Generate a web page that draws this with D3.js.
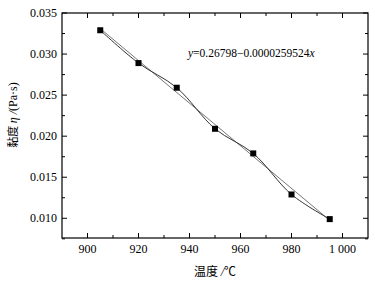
<!DOCTYPE html>
<html>
<head>
<meta charset="utf-8">
<script src="https://cdn.jsdelivr.net/npm/d3@7"></script>
<style>
  body { margin: 0; background: #fff; }
  svg { display: block; }
</style>
</head>
<body>
<div id="container"></div>
<script>
let w = 375;
let h = 287;
let margin = {top: 13, right: 7, bottom: 49, left: 62};

// DATA
let temps = [905, 920, 935, 950, 965, 980, 995];
let viscosity = [0.0329, 0.0289, 0.0259, 0.0209, 0.0179, 0.0129, 0.0099];
// fitted straight line, its two ends
let fitTemps = [905, 995];
let fitValues = [0.0331, 0.00975];
let xTicks = [900, 920, 940, 960, 980, 1000];
let xTickLabels = ["900", "920", "940", "960", "980", "1 000"];
let yTicks = [0.010, 0.015, 0.020, 0.025, 0.030, 0.035];
let equation = "0.26798\u22120.0000259524";

let viz = d3.select("#container").append("svg")
    .attr("width", w)
    .attr("height", h)
    .style("background-color", "white")
;

let xScale = d3.scaleLinear().domain([890, 1010]).range([margin.left, w - margin.right]);
let yScale = d3.scaleLinear().domain([0.0076, 0.035]).range([h - margin.bottom, margin.top]);

let x0 = margin.left, x1 = w - margin.right, y0 = h - margin.bottom, y1 = margin.top;

// frame
viz.append("rect")
    .attr("x", x0).attr("y", y1)
    .attr("width", x1 - x0).attr("height", y0 - y1)
    .attr("fill", "none").attr("stroke", "black").attr("stroke-width", 1.2)
;

// minor + major ticks, all pointing in
let xMinor = d3.range(900, 1010, 10);
let yMinor = d3.range(0.0075, 0.035, 0.0025);

let tickG = viz.append("g").attr("stroke", "black").attr("stroke-width", 1);
xMinor.forEach(function(t){
  let major = xTicks.indexOf(t) >= 0;
  let len = major ? 5 : 3;
  tickG.append("line").attr("x1", xScale(t)).attr("x2", xScale(t)).attr("y1", y0).attr("y2", y0 - len);
  tickG.append("line").attr("x1", xScale(t)).attr("x2", xScale(t)).attr("y1", y1).attr("y2", y1 + len);
});
yMinor.forEach(function(t){
  let major = yTicks.some(function(v){ return Math.abs(v - t) < 1e-6; });
  let len = major ? 5 : 3;
  tickG.append("line").attr("y1", yScale(t)).attr("y2", yScale(t)).attr("x1", x0).attr("x2", x0 + len);
  tickG.append("line").attr("y1", yScale(t)).attr("y2", yScale(t)).attr("x1", x1).attr("x2", x1 - len);
});

// tick labels
viz.selectAll(".xlab").data(xTicks).enter()
  .append("text")
    .attr("class", "xlab")
    .attr("x", function(d){ return xScale(d); })
    .attr("y", y0 + 15)
    .attr("text-anchor", "middle")
    .attr("font-family", "Liberation Serif")
    .attr("font-size", 12)
    .text(function(d,i){ return xTickLabels[i]; })
;
viz.selectAll(".ylab").data(yTicks).enter()
  .append("text")
    .attr("class", "ylab")
    .attr("x", x0 - 5)
    .attr("y", function(d){ return yScale(d) + 4; })
    .attr("text-anchor", "end")
    .attr("font-family", "Liberation Serif")
    .attr("font-size", 12)
    .text(function(d){ return d3.format(".3f")(d); })
;

// axis titles
let xt = viz.append("text")
    .attr("x", (x0 + x1) / 2)
    .attr("y", 276)
    .attr("text-anchor", "middle")
    .attr("font-size", 12)
    .attr("font-family", "Noto Sans CJK SC");
xt.append("tspan").text("温度 ");
xt.append("tspan").attr("font-family", "Liberation Serif").attr("font-style", "italic").text("/");
xt.append("tspan").text("℃");

let yt = viz.append("text")
    .attr("transform", "translate(17," + 115 + ") rotate(-90)")
    .attr("text-anchor", "middle")
    .attr("font-size", 11)
    .attr("font-family", "Noto Sans CJK SC");
yt.append("tspan").text("黏度 ");
yt.append("tspan").attr("font-family", "Liberation Serif").attr("font-style", "italic").attr("font-size", 12).text("η /");
yt.append("tspan").attr("font-family", "Liberation Serif").attr("font-size", 12).text("(Pa·s)");

// fit line
let fitPts = fitTemps.map(function(t, i){ return [t, fitValues[i]]; });
let lineMaker = d3.line()
    .x(function(d){ return xScale(d[0]); })
    .y(function(d){ return yScale(d[1]); })
;
viz.append("path")
    .attr("d", lineMaker(fitPts))
    .attr("fill", "none")
    .attr("stroke", "#777")
    .attr("stroke-width", 1)
;

// data curve
let pts = temps.map(function(t, i){ return [t, viscosity[i]]; });
viz.append("path")
    .attr("d", lineMaker.curve(d3.curveCatmullRom)(pts))
    .attr("fill", "none")
    .attr("stroke", "#333")
    .attr("stroke-width", 1)
;

// markers
viz.selectAll(".pt").data(pts).enter()
  .append("rect")
    .attr("class", "pt")
    .attr("x", function(d){ return xScale(d[0]) - 3; })
    .attr("y", function(d){ return yScale(d[1]) - 3; })
    .attr("width", 6)
    .attr("height", 6)
    .attr("fill", "black")
;

// equation
let eq = viz.append("text")
    .attr("x", 188)
    .attr("y", 57)
    .attr("font-family", "Liberation Serif")
    .attr("font-size", 11.5);
eq.append("tspan").attr("font-style", "italic").text("y");
eq.append("tspan").text("=" + equation);
eq.append("tspan").attr("font-style", "italic").text("x");
</script>
</body>
</html>
